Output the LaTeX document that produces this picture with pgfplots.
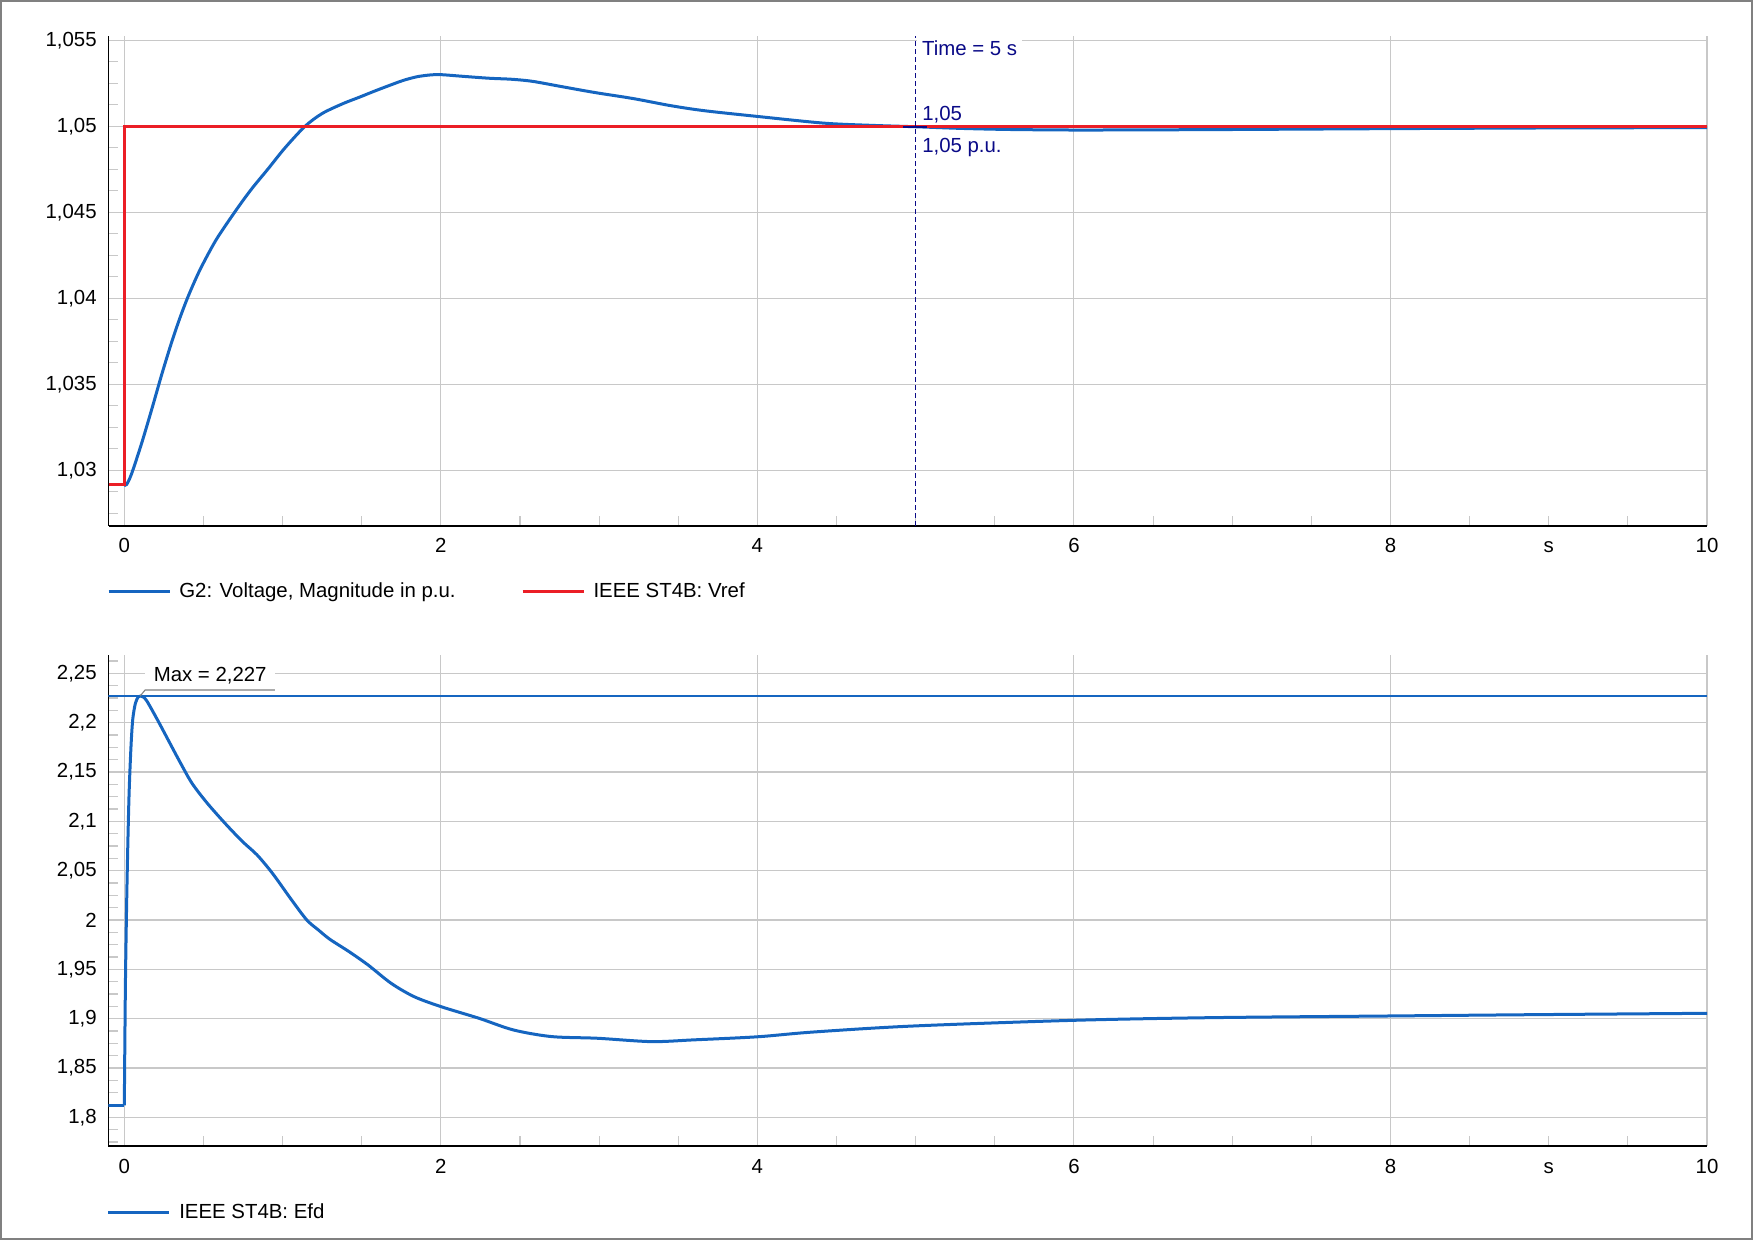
\documentclass[border=0pt]{standalone}
\usepackage{fontspec}
\setmainfont{Liberation Sans}
\usepackage{pgfplots}
\pgfplotsset{compat=1.18}
\usepackage{pgfplotstable}

\definecolor{pfblue}{RGB}{21,101,192}
\definecolor{pfred}{RGB}{235,30,38}
\definecolor{pfnavy}{RGB}{10,10,135}
\definecolor{pfgrid}{RGB}{200,200,200}

% G2: Voltage, Magnitude in p.u. (after the step)
\pgfplotstableread{
t v
0.0 1.02915
0.015 1.02918
0.046 1.0298
0.109 1.03156
0.173 1.03354
0.236 1.03556
0.299 1.03745
0.352 1.03888
0.404 1.04013
0.467 1.04145
0.531 1.0426
0.594 1.04361
0.71 1.04518
0.804 1.04636
0.91 1.04755
1.015 1.04875
1.141 1.05
1.25 1.05075
1.38 1.05132
1.48 1.05168
1.583 1.05206
1.68 1.05240
1.764 1.05268
1.85 1.05289
1.93 1.05299
2.0 1.05301
2.157 1.0529
2.308 1.0528
2.45 1.05274
2.58 1.05262
2.76 1.05232
2.973 1.05197
3.215 1.05162
3.456 1.0512
3.668 1.05091
4.0 1.05058
4.42 1.05019
4.725 1.05006
5.0 1.04998
5.3 1.04988
5.6 1.04982
6.0 1.04979
6.5 1.04980
7.0 1.04982
8.0 1.04987
9.0 1.04991
10.0 1.04993
}\voltage

% IEEE ST4B: Vref
\pgfplotstableread{
t v
-0.1 1.02915
0.0 1.02915
0.0 1.05
10.0 1.05
}\vref

% IEEE ST4B: Efd (after the step)
\pgfplotstableread{
t v
0.0 1.8122
0.007 1.936
0.017 2.037
0.029 2.122
0.041 2.172
0.053 2.203
0.07 2.2196
0.089 2.2264
0.105 2.2270
0.138 2.223
0.21 2.2027
0.283 2.1807
0.356 2.1588
0.428 2.1385
0.525 2.1182
0.646 2.0963
0.75 2.0790
0.839 2.0659
0.936 2.0473
1.057 2.0203
1.153 2.0000
1.226 1.9899
1.299 1.9804
1.42 1.9679
1.54 1.9544
1.686 1.9358
1.831 1.9223
2.0 1.9122
2.242 1.9003
2.459 1.8885
2.70 1.8818
2.99 1.8801
3.33 1.8767
3.6 1.8785
4.0 1.8816
4.35 1.8864
4.98 1.8925
6.0 1.8983
6.87 1.9010
8.0 1.9027
8.96 1.9041
10.0 1.9054
}\efd

\pgfplotsset{
  pfaxis/.style={
    scale only axis,
    anchor=south west,
    width=799.25pt,
    xmin=-0.1, xmax=10,
    axis lines*=left,
    axis line style={black, line width=0.85pt},
    xtick={0,2,4,6,8,10},
    minor xtick={0.5,1,1.5,2.5,3,3.5,4.5,5,5.5,6.5,7,7.5,8.5,9,9.5},
    extra x ticks={9},
    extra x tick labels={s},
    extra x tick style={grid=none, major tick length=0pt},
    grid=major,
    grid style={pfgrid, line width=0.55pt},
    tick align=inside,
    major tick length=0pt,
    minor tick length=5pt,
    minor tick style={pfgrid, line width=0.55pt},
    tick label style={font=\fontsize{10.2}{12}\selectfont},
    /pgf/number format/use comma,
    /pgf/number format/fixed,
    /pgf/number format/precision=3,
    /pgf/number format/assume math mode=true,
    xticklabel style={anchor=base, yshift=-13.5pt},
    yticklabel style={xshift=-2.4pt},
    legend style={draw=none, fill=none, inner sep=0pt, outer sep=0pt,
      at={(axis description cs:0,0)}, anchor=west, xshift=-0.75pt,
      font=\fontsize{10.2}{12}\selectfont,
      nodes={inner sep=0pt},
      /tikz/every odd column/.append style={column sep=4.15pt},
      /tikz/every even column/.append style={column sep=32.8pt}},
    legend image code/.code={\draw[#1] (0pt,0pt) -- (30.5pt,0pt);},
    legend cell align=left,
  }
}

\begin{document}
\begin{tikzpicture}[font=\fontsize{10.2}{12}\selectfont]
\useasboundingbox (0,0) rectangle (876.5pt,-620pt);
\draw[line width=1pt, color=gray] (0.5pt,-0.5pt) rectangle (876pt,-619.5pt);

% upper chart
\begin{axis}[pfaxis,
  at={(54.25pt,-263pt)},
  height=245.1pt,
  ymin=1.02676, ymax=1.05527,
  ytick={1.03,1.035,1.04,1.045,1.05,1.055},
  minor ytick={1.0275,1.02875,1.03125,1.0325,1.03375,1.03625,1.0375,1.03875,1.04125,1.0425,1.04375,1.04625,1.0475,1.04875,1.05125,1.0525,1.05375},
  legend style={yshift=-32.6pt},
  legend columns=2,
]
\addplot[pfblue, line width=1.5pt, forget plot]
  coordinates {(-0.1,1.02915) (0,1.02915)};
\addplot[pfblue, line width=1.5pt, smooth, tension=0.5] table[x=t, y=v] {\voltage};
\addlegendentry{G2: Voltage, Magnitude in p.u.}
\addplot[pfred, line width=1.5pt] table[x=t, y=v] {\vref};
\addlegendentry{IEEE ST4B: Vref}
\addplot[pfnavy, line width=0.7pt, dash pattern=on 2.5pt off 1.5pt, forget plot]
  coordinates {(5,1.02676) (5,1.05527)};
\addplot[pfnavy, line width=1pt, forget plot]
  coordinates {(4.92,1.04995) (5.07,1.04995)};
\node[anchor=base west, fill=white, inner xsep=2.35pt, inner ysep=2pt, text=pfnavy, xshift=0.65pt]
  at (axis cs:5,1.05413) {Time = 5 s};
\node[anchor=base west, inner sep=0pt, text=pfnavy, xshift=3.1pt]
  at (axis cs:5,1.05034) {1,05};
\node[anchor=base west, inner sep=0pt, text=pfnavy, xshift=3.1pt]
  at (axis cs:5,1.04849) {1,05 p.u.};
\end{axis}

% lower chart
\begin{axis}[pfaxis,
  at={(54.25pt,-573pt)},
  height=245.5pt,
  ymin=1.7709, ymax=2.2686,
  ytick={1.8,1.85,1.9,1.95,2,2.05,2.1,2.15,2.2,2.25},
  minor ytick={1.775,1.7875,1.8125,1.825,1.8375,1.8625,1.875,1.8875,1.9125,1.925,1.9375,1.9625,1.975,1.9875,2.0125,2.025,2.0375,2.0625,2.075,2.0875,2.1125,2.125,2.1375,2.1625,2.175,2.1875,2.2125,2.225,2.2375,2.2625},
  legend style={yshift=-33.1pt},
]
\addplot[pfblue, line width=0.6pt, forget plot]
  coordinates {(-0.1,2.227) (10,2.227)};
\addplot[pfblue, line width=1.5pt, forget plot]
  coordinates {(-0.1,1.8122) (0,1.8122)};
\addplot[pfblue, line width=1.5pt, smooth, tension=0.5] table[x=t, y=v] {\efd};
\addlegendentry{IEEE ST4B: Efd}
\node[anchor=base west, fill=white, inner xsep=4.15pt, inner ysep=2pt]
  at (axis cs:0.131,2.2415) {Max = 2,227};
\draw[gray, line width=0.55pt] (axis cs:0.1,2.227) -- (axis cs:0.131,2.2331) -- (axis cs:0.952,2.2331);
\end{axis}
\end{tikzpicture}
\end{document}
